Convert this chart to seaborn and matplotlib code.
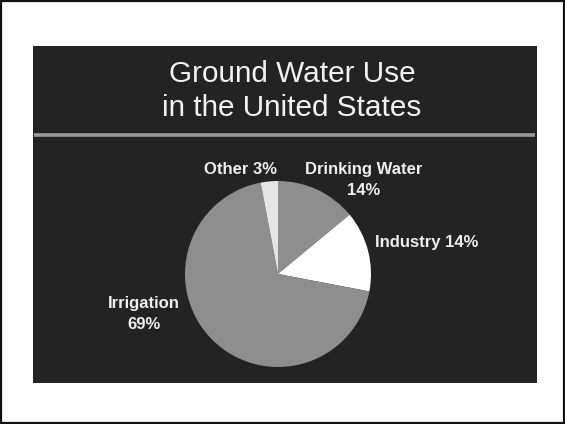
import matplotlib
matplotlib.use("Agg")
import matplotlib.pyplot as plt
from matplotlib.patches import Rectangle
import seaborn as sns

# Data
categories = ["Drinking Water", "Industry", "Irrigation", "Other"]
shares = [14, 14, 69, 3]
label_texts = ["Drinking Water\n14%", "Industry 14%", "Irrigation\n69%", "Other 3%"]
title_text = "Ground Water Use\nin the United States"

sns.set_style("white")
plt.rcParams["font.family"] = ["Liberation Sans", "DejaVu Sans"]

W, H = 565, 424
fig = plt.figure(figsize=(W / 100, H / 100), dpi=100)
fig.patch.set_facecolor("white")
ax = fig.add_axes([0, 0, 1, 1])
ax.set_xlim(0, W)
ax.set_ylim(0, H)
ax.set_aspect("equal")
ax.axis("off")

# outer frame
ax.add_patch(Rectangle((1, 1), W - 2, H - 2, facecolor="none", edgecolor="#111111", lw=1.6))
# dark panel
ax.add_patch(Rectangle((33, H - 383), 504, 337, facecolor="#232323", edgecolor="none"))
# divider line
ax.plot([34, 535], [H - 135, H - 135], color="#9a9a9a", lw=2.6, solid_capstyle="butt")

ax.text(292, H - 91, title_text, ha="center", va="center", color="#f2f2f2",
        fontsize=21.4, linespacing=1.27)

colors = ["#8e8e8e", "#ffffff", "#8e8e8e", "#e4e4e4"]
ax.pie(shares, colors=colors, startangle=90, counterclock=False,
       center=(278, H - 274), radius=93, frame=True,
       wedgeprops=dict(linewidth=0))
ax.set_xlim(0, W)
ax.set_ylim(0, H)
ax.axis("off")

label_pos = {
    "Drinking Water": (364, H - 180, "center"),
    "Industry": (375, H - 243, "left"),
    "Irrigation": (144, H - 314, "center"),
    "Other": (240, H - 169, "center"),
}
for cat, txt in zip(categories, label_texts):
    x, y, ha = label_pos[cat]
    ax.text(x, y, txt, ha=ha, va="center", color="#eeeeee", fontsize=12,
            fontweight="bold", linespacing=1.45)

fig.savefig("out.png", dpi=100, facecolor="white")
